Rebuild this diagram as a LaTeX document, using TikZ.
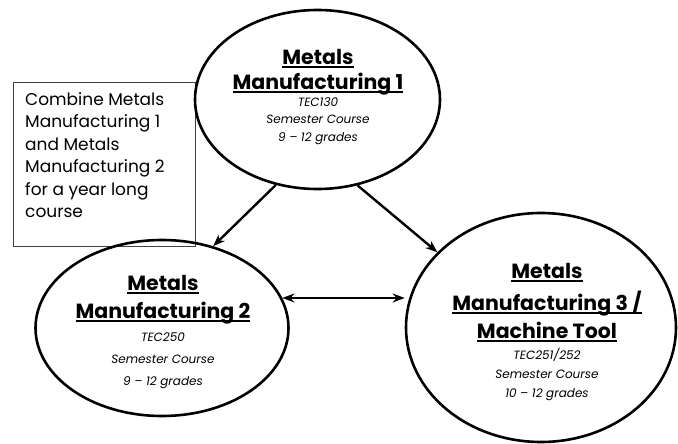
\documentclass[tikz,border=0pt]{standalone}
\usepackage{fontspec}
\setmainfont{Poppins}
\usetikzlibrary{shapes.geometric,arrows.meta,calc}

% underline set just below the baseline, through the descenders
\newcommand{\baseul}[1]{\setbox0=\hbox{#1}\rlap{\rule[-3.4pt]{\wd0}{1.4pt}}\box0}
% lines are smashed so that the \\[..] gaps alone set the baseline distances
\newcommand{\ctitle}[1]{\smash{\fontsize{20.5}{0}\selectfont\bfseries\upshape\baseul{#1}}}
\newcommand{\cinfo}[1]{\smash{#1}}

\tikzset{
  course/.style={ellipse, draw=black, line width=2.6pt, inner sep=0pt},
  coursetext/.style={align=center, inner sep=0pt, anchor=north,
    font=\fontsize{12}{0}\selectfont\itshape},
  notebox/.style={draw=black!75, line width=0.8pt, inner sep=0pt},
  notetext/.style={align=left, inner sep=0pt, anchor=north west,
    font=\fontsize{17}{22.5}\selectfont},
  link/.style={line width=2.4pt, -{Stealth[length=12pt,width=9pt]}},
  twoway/.style={line width=2.4pt, {Stealth[length=12pt,width=9pt]}-{Stealth[length=12pt,width=9pt]}}
}

\begin{document}
\begin{tikzpicture}[x=1pt,y=-1pt]
\useasboundingbox (0,0) rectangle (678,444);
\fill[white] (0,0) rectangle (678,444);

% note box
\node[notebox, minimum width=182pt, minimum height=164pt] (note) at (104,164) {};
\node[notetext] (notetxt) at (25,92) {Combine Metals\\Manufacturing 1\\and Metals\\Manufacturing 2\\for a year long\\course};

% courses
\node[course, minimum width=245pt, minimum height=179pt] (m1) at (317.5,99.5) {};
\node[coursetext] (t1) at (318,64)
  {\ctitle{Metals}\\[25pt]\ctitle{Manufacturing 1}\\[17pt]\cinfo{TEC130}\\[17pt]\cinfo{Semester Course}\\[18pt]\cinfo{9 -- 12 grades}};

\node[course, minimum width=253pt, minimum height=176pt] (m2) at (162,328) {};
\node[coursetext] (t2) at (163,290)
  {\ctitle{Metals}\\[28pt]\ctitle{Manufacturing 2}\\[23pt]\cinfo{TEC250}\\[22pt]\cinfo{Semester Course}\\[22pt]\cinfo{9 -- 12 grades}};

\node[course, minimum width=270pt, minimum height=229pt] (m3) at (541,327.5) {};
\node[coursetext] (t3) at (547,278)
  {\ctitle{Metals}\\[32pt]\ctitle{Manufacturing 3 /}\\[28pt]\ctitle{Machine Tool}\\[21pt]\cinfo{TEC251/252}\\[19pt]\cinfo{Semester Course}\\[19pt]\cinfo{10 -- 12 grades}};

% connectors
\draw[link] (m1.244) -- (m2.58);
\draw[link] (m1.295) -- (m3.144);
\draw[twoway] (m2.14) -- (m2.14 -| m3.west);
\end{tikzpicture}
\end{document}
